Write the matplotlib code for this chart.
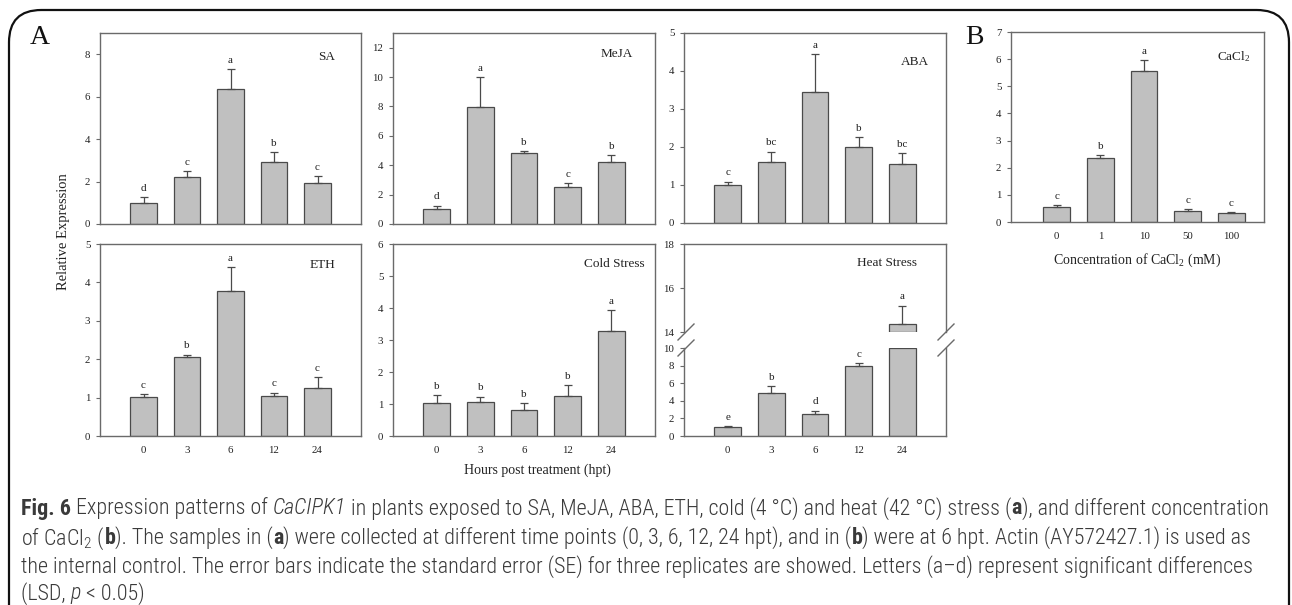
import matplotlib
matplotlib.use("Agg")
import matplotlib.pyplot as plt
from matplotlib import font_manager as fm
from matplotlib.patches import FancyBboxPatch
import numpy as np

# ---------------- data ----------------
hours = ["0", "3", "6", "12", "24"]
conc = ["0", "1", "10", "50", "100"]

sa_mean = [1.00, 2.23, 6.35, 2.93, 1.94]
sa_se = [0.25, 0.26, 0.96, 0.44, 0.32]
sa_let = ["d", "c", "a", "b", "c"]

meja_mean = [1.02, 7.99, 4.85, 2.52, 4.24]
meja_se = [0.23, 1.99, 0.12, 0.29, 0.43]
meja_let = ["d", "a", "b", "c", "b"]

aba_mean = [0.99, 1.61, 3.46, 1.99, 1.54]
aba_se = [0.10, 0.27, 0.98, 0.28, 0.31]
aba_let = ["c", "bc", "a", "b", "bc"]

eth_mean = [1.02, 2.06, 3.78, 1.05, 1.24]
eth_se = [0.07, 0.06, 0.61, 0.08, 0.30]
eth_let = ["c", "b", "a", "c", "c"]

cold_mean = [1.04, 1.06, 0.80, 1.24, 3.28]
cold_se = [0.24, 0.17, 0.22, 0.34, 0.65]
cold_let = ["b", "b", "b", "b", "a"]

heat_mean = [1.03, 4.87, 2.47, 7.98, 14.35]
heat_se = [0.11, 0.80, 0.42, 0.31, 0.85]
heat_let = ["e", "b", "d", "c", "a"]

cacl_mean = [0.54, 2.35, 5.55, 0.42, 0.33]
cacl_se = [0.07, 0.11, 0.42, 0.06, 0.04]
cacl_let = ["c", "b", "a", "c", "c"]

# caption: (text, style) segments per line; style r=regular, b=bold, i=italic
caption_lines = [
    [("Fig. 6", "b"), (" Expression patterns of ", "r"), ("CaCIPK1", "i"),
     (" in plants exposed to SA, MeJA, ABA, ETH, cold (4 °C) and heat (42 °C) stress (", "r"),
     ("a", "b"), ("), and different concentration", "r")],
    [(r"of CaCl$\mathregular{_2}$ (", "r"), ("b", "b"), ("). The samples in (", "r"), ("a", "b"),
     (") were collected at different time points (0, 3, 6, 12, 24 hpt), and in (", "r"),
     ("b", "b"), (") were at 6 hpt. Actin (AY572427.1) is used as", "r")],
    [("the internal control. The error bars indicate the standard error (SE) for three "
      "replicates are showed. Letters (a–d) represent significant differences", "r")],
    [("(LSD, ", "r"), ("p", "i"), (" < 0.05)", "r")],
]

# ---------------- style ----------------
W, H = 1292, 605
SERIF = "Liberation Serif"
names = {f.name for f in fm.fontManager.ttflist}
CAP = next((n for n in ["Liberation Sans Narrow", "Roboto Condensed",
                        "Open Sans Condensed", "Noto Sans Condensed"] if n in names),
           "Liberation Sans")

BAR_C = "#c0c0c0"
EDGE_C = "#4a4a4a"
SPINE_C = "#6a6a6a"
TXT_C = "#222222"

fig = plt.figure(figsize=(W / 100, H / 100), dpi=100)


def px_axes(l, t, r, b):
    return fig.add_axes([l / W, 1 - b / H, (r - l) / W, (b - t) / H])


def style_axes(ax, yticks, ylim, xlabels, xlim):
    ax.set_ylim(*ylim)
    ax.set_xlim(*xlim)
    ax.set_yticks(yticks)
    ax.set_yticklabels([str(v) for v in yticks], fontfamily=SERIF, fontsize=7.8, color=TXT_C)
    ax.set_xticks(np.arange(len(hours)))
    if xlabels is None:
        ax.set_xticklabels([])
    else:
        ax.set_xticklabels(xlabels, fontfamily=SERIF, fontsize=7.8, color=TXT_C)
    ax.tick_params(axis="x", length=0, pad=7)
    ax.tick_params(axis="y", direction="out", length=3, width=0.8, color=SPINE_C, pad=4)
    for s in ax.spines.values():
        s.set_color(SPINE_C)
        s.set_linewidth(1.0)


def draw_bars(ax, means, se, letters):
    """Bars are limited to the axis window so broken-axis pieces keep their outlines."""
    x = np.arange(len(means))
    lo, hi = ax.get_ylim()
    m = np.asarray(means, float)
    vis = m > lo
    top = np.minimum(m, hi)
    ax.bar(x[vis], (top - lo)[vis], bottom=lo, width=0.61, color=BAR_C,
           edgecolor=EDGE_C, linewidth=0.9, zorder=2)
    ax.errorbar(x, m, yerr=[np.zeros(len(se)), se], fmt="none", ecolor=EDGE_C,
                elinewidth=0.9, capsize=2.6, capthick=0.9, zorder=3)
    for xi, mv, e, L in zip(x, m, se, letters):
        if lo <= mv + e <= hi:
            ax.annotate(L, (xi, mv + e), xytext=(0, 3), textcoords="offset points",
                        ha="center", va="bottom", fontfamily=SERIF, fontsize=8, color=TXT_C)


def panel_title(ax, text, dx, dy, l, t, r, b):
    ax.text(1 - dx / (r - l), 1 - dy / (b - t), text, transform=ax.transAxes,
            ha="right", va="center", fontfamily=SERIF, fontsize=9.5, color=TXT_C)


XL = (-1, 5)

# SA
box = (100, 33, 361, 224)
ax = px_axes(*box)
style_axes(ax, [0, 2, 4, 6, 8], (0, 9), None, XL)
draw_bars(ax, sa_mean, sa_se, sa_let)
panel_title(ax, "SA", 26, 24, *box)

# MeJA
box = (393, 33, 655, 224)
ax = px_axes(*box)
style_axes(ax, [0, 2, 4, 6, 8, 10, 12], (0, 13), None, XL)
draw_bars(ax, meja_mean, meja_se, meja_let)
panel_title(ax, "MeJA", 22, 21, *box)

# ABA
box = (684, 33, 946, 223)
ax = px_axes(*box)
style_axes(ax, [0, 1, 2, 3, 4, 5], (0, 5), None, XL)
draw_bars(ax, aba_mean, aba_se, aba_let)
panel_title(ax, "ABA", 17, 29, *box)

# ETH
box = (100, 244, 361, 436)
ax = px_axes(*box)
style_axes(ax, [0, 1, 2, 3, 4, 5], (0, 5), hours, XL)
draw_bars(ax, eth_mean, eth_se, eth_let)
panel_title(ax, "ETH", 26, 21, *box)

# Cold
box = (393, 244, 655, 436)
ax = px_axes(*box)
style_axes(ax, [0, 1, 2, 3, 4, 5, 6], (0, 6), hours, XL)
draw_bars(ax, cold_mean, cold_se, cold_let)
panel_title(ax, "Cold Stress", 10, 20, *box)

# Heat (broken axis)
box_u = (684, 244, 946, 332)
box_l = (684, 348, 946, 436)
axu = px_axes(*box_u)
axl = px_axes(*box_l)
style_axes(axu, [14, 16, 18], (14, 18), None, XL)
style_axes(axl, [0, 2, 4, 6, 8, 10], (0, 10), hours, XL)
draw_bars(axu, heat_mean, heat_se, heat_let)
draw_bars(axl, heat_mean, heat_se, heat_let)
axu.spines["bottom"].set_visible(False)
axl.spines["top"].set_visible(False)
panel_title(axu, "Heat Stress", 29, 19, *box_u)
for xpx in (686, 946):
    for ypx in (332, 348):
        fig.add_artist(plt.Line2D([(xpx - 8) / W, (xpx + 8) / W],
                                  [1 - (ypx + 8) / H, 1 - (ypx - 8) / H],
                                  color=SPINE_C, lw=1.0, transform=fig.transFigure))

# CaCl2
box = (1011, 32, 1264, 222)
ax = px_axes(*box)
style_axes(ax, [0, 1, 2, 3, 4, 5, 6, 7], (0, 7), conc, (-1.05, 4.75))
draw_bars(ax, cacl_mean, cacl_se, cacl_let)
panel_title(ax, r"CaCl$\mathregular{_2}$", 14, 25, *box)
ax.set_xlabel(r"Concentration of CaCl$\mathregular{_2}$ (mM)", fontfamily=SERIF,
              fontsize=10, color=TXT_C, labelpad=8)

# figure-level labels
fig.text(64 / W, 1 - 232 / H, "Relative Expression", rotation=90, ha="center", va="center",
         fontfamily=SERIF, fontsize=10.5, color=TXT_C)
fig.text(537 / W, 1 - 470 / H, "Hours post treatment (hpt)", ha="center", va="center",
         fontfamily=SERIF, fontsize=10, color=TXT_C)
fig.text(30 / W, 1 - 38 / H, "A", ha="left", va="center", fontfamily=SERIF, fontsize=20, color="#111111")
fig.text(965 / W, 1 - 38 / H, "B", ha="left", va="center", fontfamily=SERIF, fontsize=20, color="#111111")

# caption, drawn segment by segment; size fitted so line 1 spans the frame width
renderer = fig.canvas.get_renderer()
STY = {"r": dict(fontweight="light"), "b": dict(fontweight="bold"),
       "i": dict(fontstyle="italic", fontweight="light")}


def line_width(segs, size):
    total = 0.0
    for txt, st in segs:
        t = fig.text(0, 0, txt, fontfamily=CAP, fontsize=size, **STY[st])
        total += t.get_window_extent(renderer).width
        t.remove()
    return total


base = 12.0
cap_size = base * 1248 / line_width(caption_lines[0], base)
ys = [506, 535, 564, 591]
for segs, ypx in zip(caption_lines, ys):
    x = 21.0
    for txt, st in segs:
        t = fig.text(x / W, 1 - ypx / H, txt, ha="left", va="center_baseline",
                     fontfamily=CAP, fontsize=cap_size, color="#3a3a3a", **STY[st])
        x += t.get_window_extent(renderer).width

# frame
frame = FancyBboxPatch((9 / W, -0.2), (1289 - 9) / W, 1 - 10 / H + 0.2,
                       boxstyle="round,pad=0,rounding_size=0.025",
                       transform=fig.transFigure, fill=False, ec="#111111", lw=1.6,
                       mutation_aspect=W / H)
fig.add_artist(frame)

fig.savefig("out.png", dpi=100)
